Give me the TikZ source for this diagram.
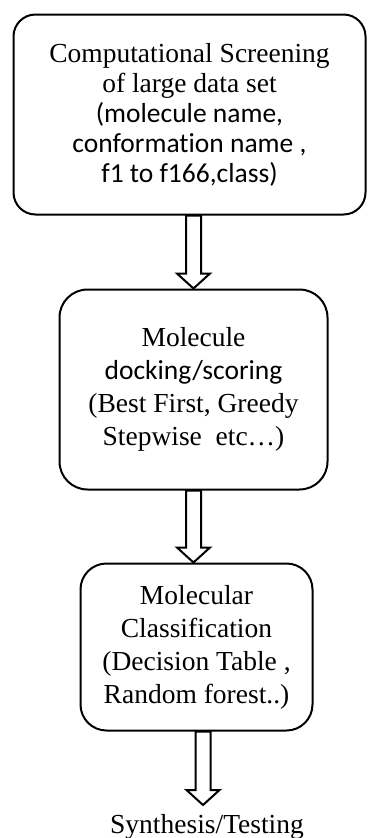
\documentclass[tikz,border=0pt]{standalone}
\usepackage{fontspec}
\setmainfont[Ligatures=NoCommon]{Liberation Serif}
\newfontfamily\calib[Ligatures=NoCommon]{Carlito}
\usetikzlibrary{calc}
\tikzset{
  stage/.style={draw=black, line width=2pt, fill=white, align=center, inner sep=0pt},
  barrow/.style={draw=black, line width=2pt, fill=white, line join=miter},
}
% hollow block arrow from point #1 down to point #2 (#3 shaft, #4 head half-width)
\newcommand\blockarr[4]{%
  \draw[barrow] let \p1=#1, \p2=#2 in
    ($(\x1,\y1)+(-#3pt,0pt)$) -- ($(\x1,\y1)+(#3pt,0pt)$) --
    ($(\x1,\y2)+(#3pt,15pt)$) -- ($(\x1,\y2)+(#4pt,15pt)$) --
    (\x1,\y2) --
    ($(\x1,\y2)+(-#4pt,15pt)$) -- ($(\x1,\y2)+(-#3pt,15pt)$) -- cycle;}
\begin{document}
\begin{tikzpicture}[x=1pt,y=-1pt]
\useasboundingbox (0,0) rectangle (369,838);

\node[stage, minimum width=352pt, minimum height=200pt, rounded corners=22pt,
      font=\fontsize{27.5}{30}\selectfont] (b1) at (189.5,114.5)
  {Computational Screening\\ of large data set\\
   {\calib (molecule name,}\\ {\calib conformation name ,}\\ {\calib f1 to f166,class)}};

\node[stage, minimum width=268pt, minimum height=200pt, rounded corners=28pt,
      font=\fontsize{27.5}{33}\selectfont] (b2) at (193.5,389.5)
  {Molecule\\ {\calib docking/scoring}\\ (Best First, Greedy\\ Stepwise\ \ etc…)};

\node[stage, minimum width=232pt, minimum height=167pt, rounded corners=26pt,
      font=\fontsize{27.5}{33}\selectfont] (b3) at (196.5,647)
  {Molecular\\ Classification\\ (Decision Table ,\\ Random forest..)};

\node[font=\fontsize{27.5}{33}\selectfont, inner sep=0pt, anchor=base] (out) at (207,833) {Synthesis/Testing};

\coordinate (ax1) at (193.5,0);
\coordinate (ax2) at (193.5,0);
\coordinate (ax3) at (203,0);
\coordinate (tip3) at (203,805);

\blockarr{(b1.south -| ax1)}{(b2.north -| ax1)}{7.5}{16.5}
\blockarr{(b2.south -| ax2)}{(b3.north -| ax2)}{7.5}{16.5}
\blockarr{(b3.south -| ax3)}{(tip3)}{7.5}{16.5}
\end{tikzpicture}
\end{document}
